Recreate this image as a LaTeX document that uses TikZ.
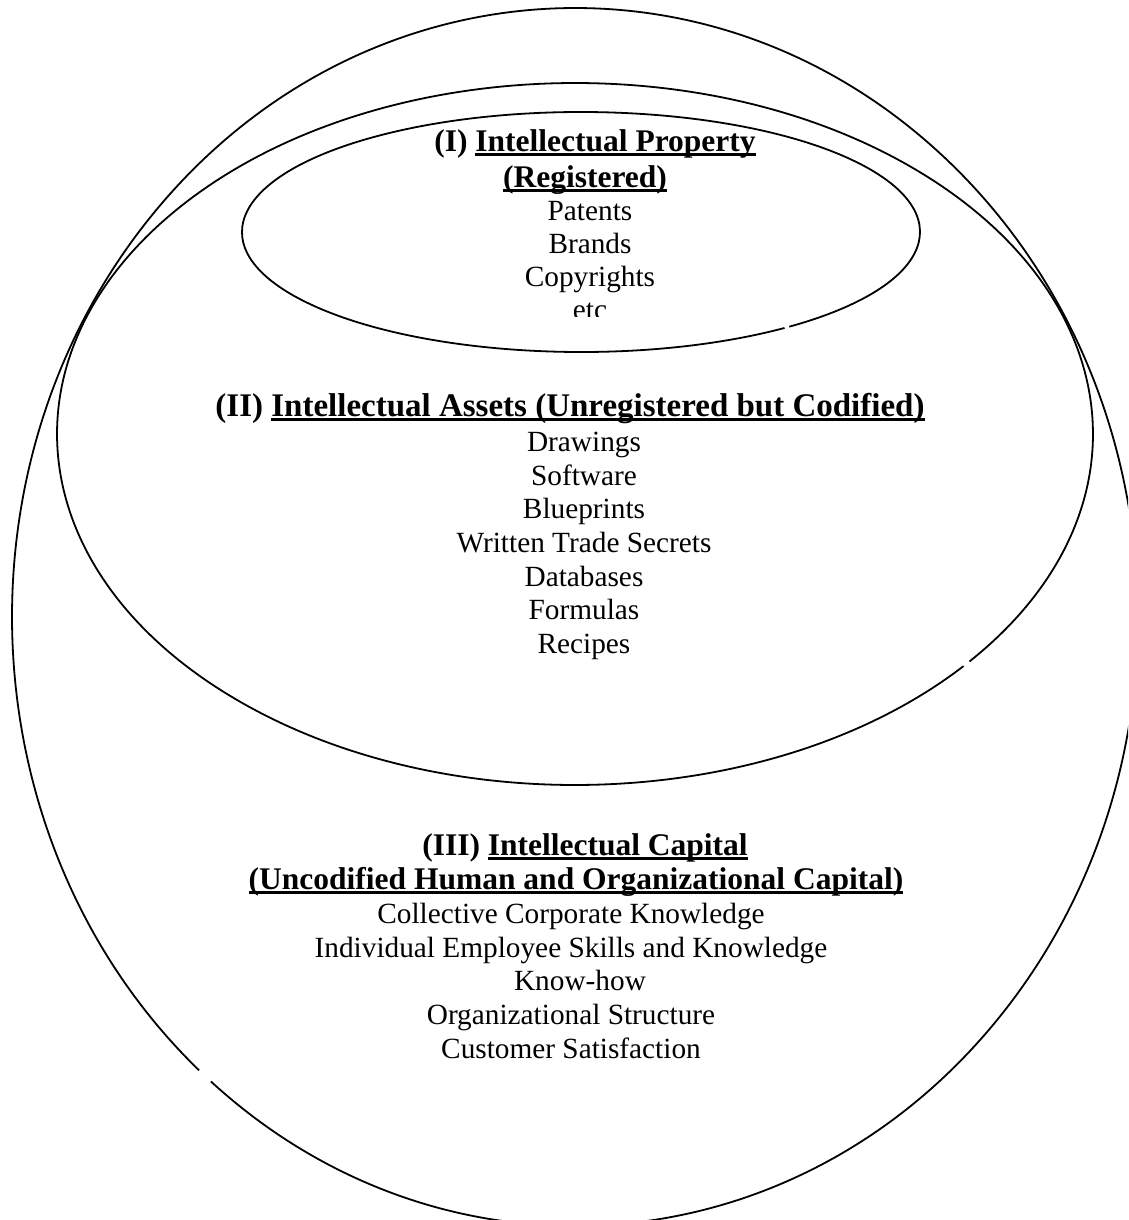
\documentclass[tikz,border=0pt]{standalone}
\usepackage{fontspec}
\setmainfont{Liberation Serif}
% underline drawn as a rule a little below the baseline
\newcommand\ulbar[1]{\setbox0\hbox{#1}\rlap{\rule[-5pt]{\wd0}{2.6pt}}\box0}
\begin{document}
\begin{tikzpicture}[x=1pt,y=-1pt,
  outline/.style={line width=1.8pt, black},
  item/.style={anchor=base, inner sep=0pt, font=\fontsize{29.3}{34}\selectfont},
  head/.style={anchor=base, inner sep=0pt, font=\fontsize{31.5}{36}\selectfont\bfseries},
  widehead/.style={head, font=\fontsize{33}{36}\selectfont\bfseries}]
\clip (0,0) rectangle (1128,1220);
\fill[white] (0,0) rectangle (1128,1220);

% outer ring: intellectual capital
\draw[outline, shift={(575,617)}] (131.9:563 and 609)
  arc[start angle=131.9, end angle=490.3, x radius=563, y radius=609];
% middle ring: intellectual assets
\draw[outline, shift={(575,434)}] (41.4:518 and 351)
  arc[start angle=41.4, end angle=400.4, x radius=518, y radius=351];
% inner ring: intellectual property
\draw[outline, shift={(581,232)}] (53.1:339 and 120)
  arc[start angle=53.1, end angle=412.1, x radius=339, y radius=120];

% (I) registered property
\node[head] (ipA) at (595,151) {(I) \ulbar{Intellectual Property}};
\node[head] (ipB) at (585,187) {\ulbar{(Registered)}};
\node[item] (ip1) at (590,220) {Patents};
\node[item] (ip2) at (590,253) {Brands};
\node[item] (ip3) at (590,286) {Copyrights};
\begin{scope}
  \clip (500,290) rectangle (680,316);
  \node[item] (ip4) at (590,319) {etc};
\end{scope}

% (II) codified assets
\node[widehead] (iaA) at (570,416) {(II) \ulbar{Intellectual Assets (Unregistered but Codified)}};
\node[item] (ia1) at (584,451) {Drawings};
\node[item] (ia2) at (584,485) {Software};
\node[item] (ia3) at (584,518) {Blueprints};
\node[item] (ia4) at (584,552) {Written Trade Secrets};
\node[item] (ia5) at (584,586) {Databases};
\node[item] (ia6) at (584,619) {Formulas};
\node[item] (ia7) at (584,653) {Recipes};

% (III) uncodified capital
\node[head] (icA) at (585,855) {(III) \ulbar{Intellectual Capital}};
\node[head] (icB) at (576,889) {\ulbar{(Uncodified Human and Organizational Capital)}};
\node[item] (ic1) at (571,923) {Collective Corporate Knowledge};
\node[item] (ic2) at (571,957) {Individual Employee Skills and Knowledge};
\node[item] (ic3) at (580,990) {Know-how};
\node[item] (ic4) at (571,1024) {Organizational Structure};
\node[item] (ic5) at (571,1058) {Customer Satisfaction};
\end{tikzpicture}
\end{document}
